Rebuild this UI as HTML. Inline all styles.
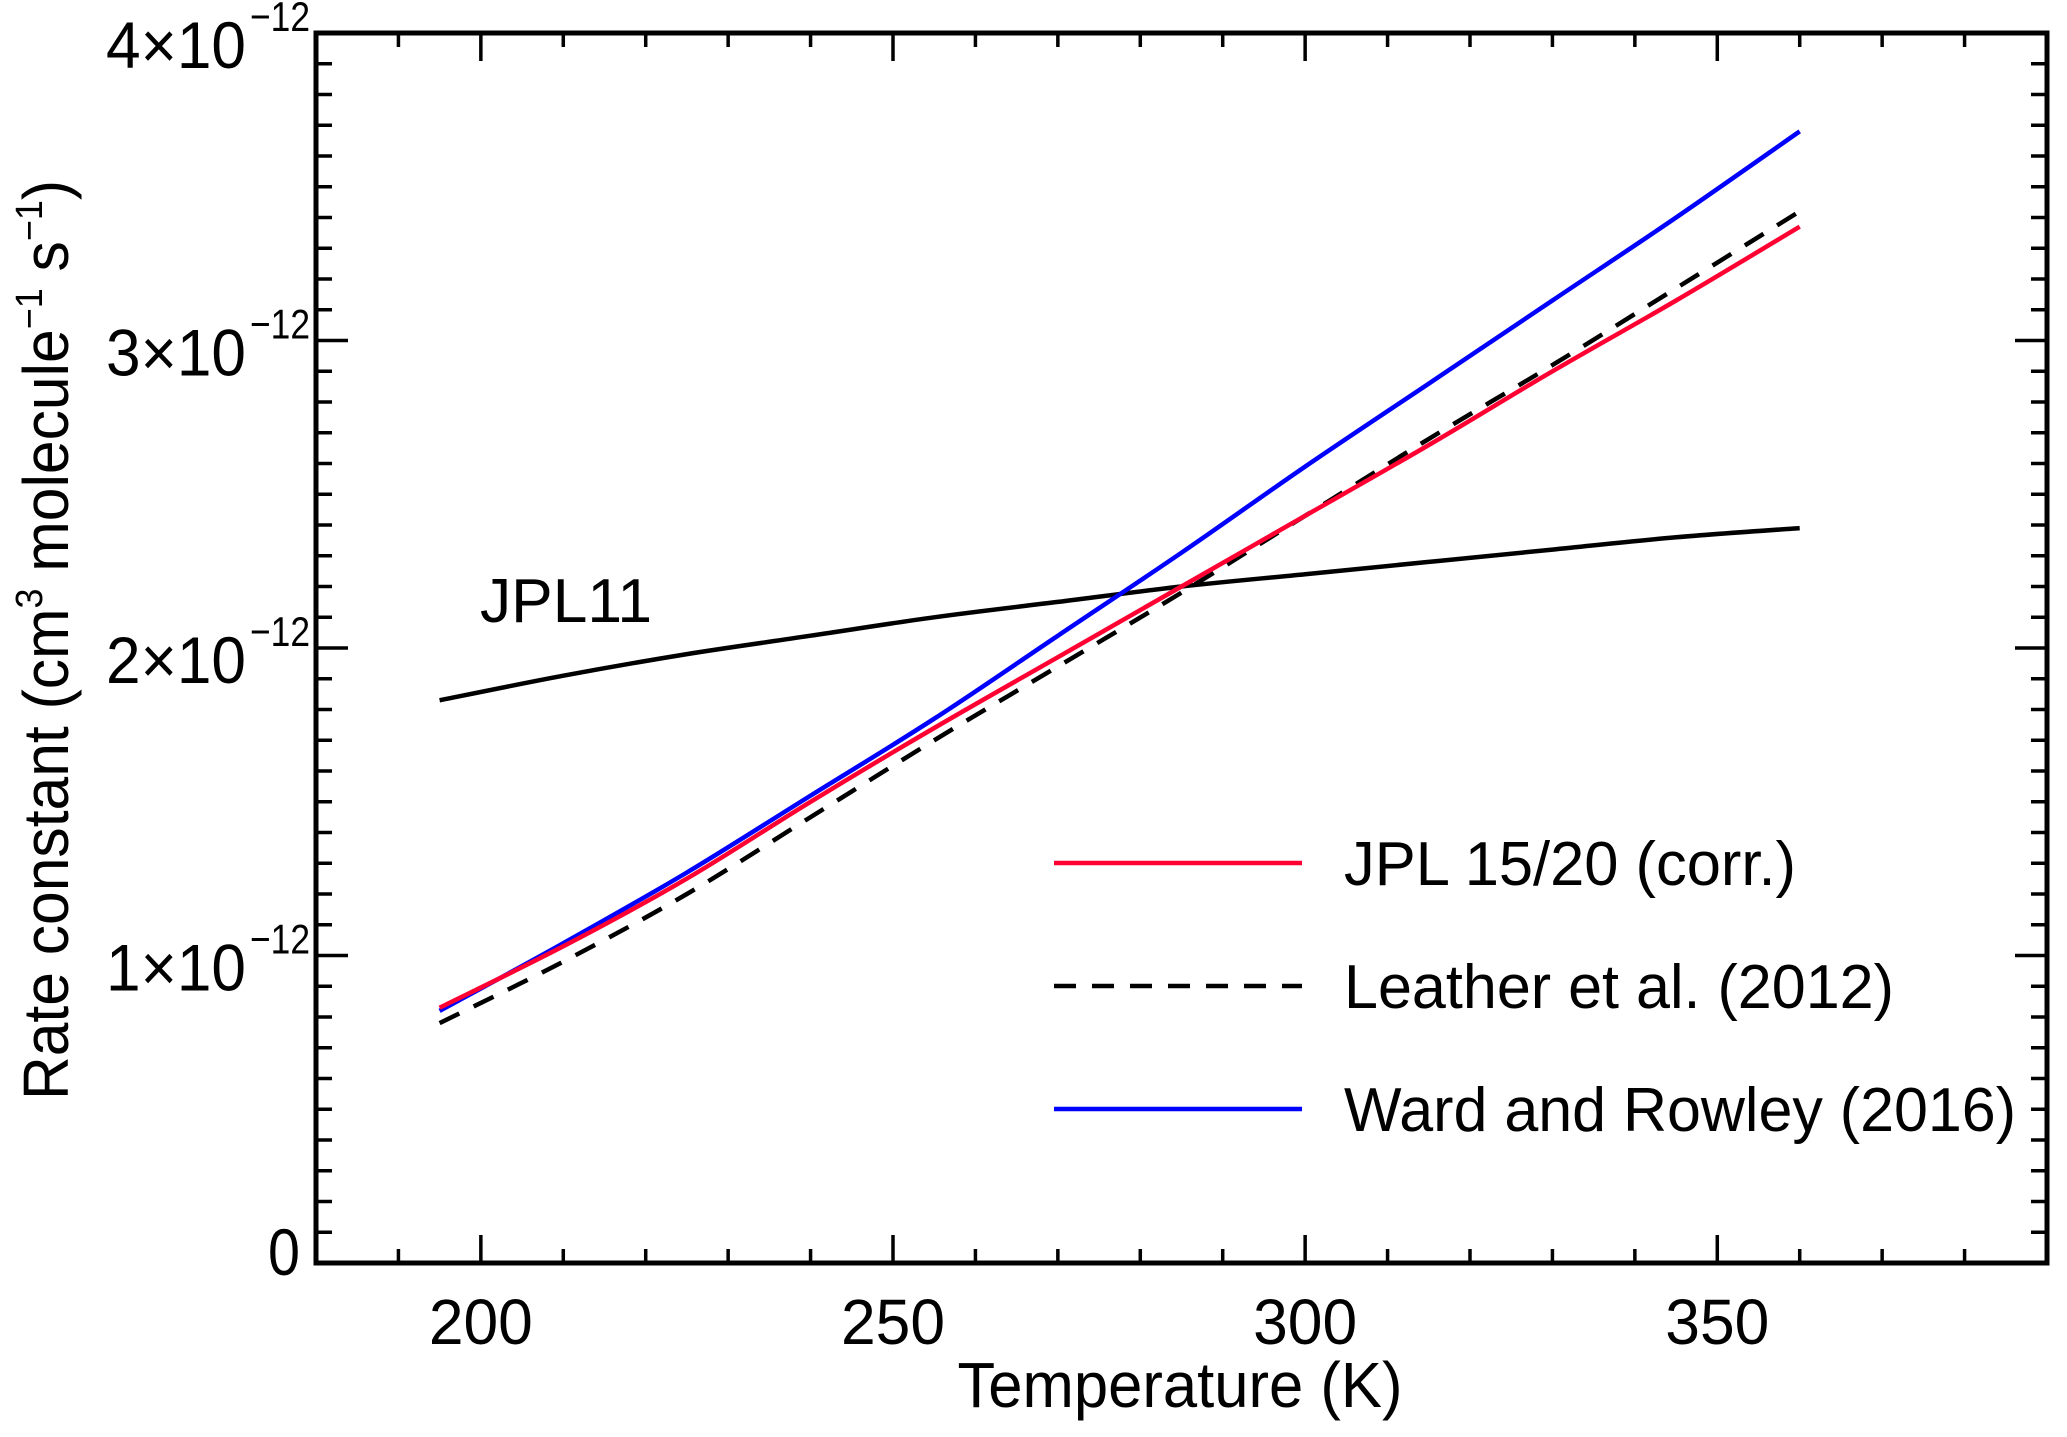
<!DOCTYPE html>
<html><head><meta charset="utf-8"><style>
html,body{margin:0;padding:0;background:#fff;}
svg{display:block;font-family:"Liberation Sans",Arial,sans-serif;}
</style></head><body>
<svg id="chart" width="2067" height="1437" viewBox="0 0 2067 1437" xmlns="http://www.w3.org/2000/svg">
<g id="marks"></g>
<g id="axes"></g>
</svg>
<script>
const temps = [195,210,225,240,255,270,285,300,315,330,345,360];
const jpl11 = [1.83,1.91,1.98,2.04,2.10,2.15,2.20,2.24,2.28,2.32,2.36,2.39];
const jpl1520 = [0.83,1.03,1.25,1.50,1.74,1.97,2.20,2.43,2.66,2.90,3.13,3.37];
const leather = [0.78,0.98,1.20,1.45,1.70,1.94,2.18,2.43,2.68,2.92,3.17,3.42];
const ward = [0.82,1.04,1.27,1.52,1.77,2.04,2.31,2.59,2.86,3.13,3.40,3.68];
const xTicks = [200,250,300,350];
const yTicks = [0,1,2,3,4];
const yTickLabels = ["0","1","2","3","4"];

const L=316,R=2047,T=33,B=1263;
const X0=180,X1=390,Y0=0,Y1=4;
const sx=v=>L+(v-X0)/(X1-X0)*(R-L);
const sy=v=>B-(v-Y0)/(Y1-Y0)*(B-T);
const NS="http://www.w3.org/2000/svg";
const marks=document.getElementById('marks');
const axes=document.getElementById('axes');
function mk(tag,attrs,parent){const e=document.createElementNS(NS,tag);for(const k in attrs)e.setAttribute(k,attrs[k]);parent.appendChild(e);return e;}

function line(vals,color,dash,name){
  const P=vals.map((v,i)=>[sx(temps[i]),sy(v)]);
  let d='M'+P[0][0].toFixed(1)+' '+P[0][1].toFixed(1);
  for(let i=0;i<P.length-1;i++){
    const p0=P[Math.max(0,i-1)],p1=P[i],p2=P[i+1],p3=P[Math.min(P.length-1,i+2)];
    const c1=[p1[0]+(p2[0]-p0[0])/6,p1[1]+(p2[1]-p0[1])/6];
    const c2=[p2[0]-(p3[0]-p1[0])/6,p2[1]-(p3[1]-p1[1])/6];
    d+=' C'+c1.map(n=>n.toFixed(1)).join(' ')+' '+c2.map(n=>n.toFixed(1)).join(' ')+' '+p2.map(n=>n.toFixed(1)).join(' ');
  }
  const p=mk('path',{d:d,fill:'none',stroke:color,'stroke-width':4.5,'stroke-dasharray':dash||'none'},marks);
  
  
}
line(jpl11,'#000',null,'jpl11-line');
line(leather,'#000','22 16','leather-2012-line');
line(ward,'#0000ff',null,'ward-rowley-2016-line');
line(jpl1520,'#ff0033',null,'jpl-15-20-line');

const fr=mk('rect',{x:L,y:T,width:R-L,height:B-T,fill:'none',stroke:'#000','stroke-width':5},axes);



for(let v=X0+10;v<X1;v+=10){
  const major=xTicks.includes(v);const len=major?28:14;const x=sx(v);
  mk('line',{x1:x,y1:B,x2:x,y2:B-len,stroke:'#000','stroke-width':3.5},axes);
  mk('line',{x1:x,y1:T,x2:x,y2:T+len,stroke:'#000','stroke-width':3.5},axes);
}
xTicks.forEach(v=>{
  const t=mk('text',{x:sx(v),y:1344,'font-size':64,'text-anchor':'middle',textLength:104,lengthAdjust:'spacingAndGlyphs'},axes);
  t.textContent=String(v);
  
  
});
for(let i=1;i<40;i++){
  const v=i/10;const major=i%10===0;const len=major?32:16;const y=sy(v);
  mk('line',{x1:L,y1:y,x2:L+len,y2:y,stroke:'#000','stroke-width':3.5},axes);
  mk('line',{x1:R,y1:y,x2:R-len,y2:y,stroke:'#000','stroke-width':3.5},axes);
}
yTicks.forEach((v,i)=>{
  const y=sy(v);
  const t=mk('text',{'font-size':66,'text-anchor':'end'},axes);
  
  
  if(v===0){t.setAttribute('x',300);t.setAttribute('y',y+12);t.setAttribute('textLength',32);t.setAttribute('lengthAdjust','spacingAndGlyphs');t.textContent='0';}
  else{
    t.setAttribute('x',246);t.setAttribute('y',y+35);
    t.setAttribute('textLength',140);t.setAttribute('lengthAdjust','spacingAndGlyphs');
    t.textContent=yTickLabels[i]+'\u00d710';
    const s=mk('text',{x:250,y:y-2,'font-size':42,textLength:60,lengthAdjust:'spacingAndGlyphs'},axes);
    s.textContent='\u221212';
    
    
  }
});
</script>
<svg style="position:absolute;left:0;top:0" width="2067" height="1437" xmlns="http://www.w3.org/2000/svg">
<g font-family="Liberation Sans, Arial, sans-serif">
<text x="1180" y="1407" font-size="64" text-anchor="middle" textLength="445" lengthAdjust="spacingAndGlyphs">Temperature (K)</text>
<g transform="translate(68,640) rotate(-90)">
<text x="0" y="0" font-size="64" text-anchor="middle" textLength="920" lengthAdjust="spacingAndGlyphs">Rate constant (cm<tspan font-size="38" dy="-26">3</tspan><tspan dy="26"> molecule</tspan><tspan font-size="38" dy="-26">−1</tspan><tspan dy="26">   s</tspan><tspan font-size="38" dy="-26">−1</tspan><tspan dy="26">)</tspan></text>
</g>
<text x="480" y="622" font-size="62" textLength="172" lengthAdjust="spacingAndGlyphs">JPL11</text>
<g>
<line x1="1054" y1="863" x2="1302" y2="863" stroke="#ff0033" stroke-width="4.5"/>
<text x="1344" y="885" font-size="62" textLength="452" lengthAdjust="spacingAndGlyphs">JPL 15/20 (corr.)</text>
<line x1="1054" y1="986" x2="1302" y2="986" stroke="#000" stroke-width="4.5" stroke-dasharray="22 16"/>
<text x="1344" y="1008" font-size="62" textLength="550" lengthAdjust="spacingAndGlyphs">Leather et al. (2012)</text>
<line x1="1054" y1="1109" x2="1302" y2="1109" stroke="#0000ff" stroke-width="4.5"/>
<text x="1344" y="1131" font-size="62" textLength="672" lengthAdjust="spacingAndGlyphs">Ward and Rowley (2016)</text>
</g>
</g>
</svg>
</body></html>
